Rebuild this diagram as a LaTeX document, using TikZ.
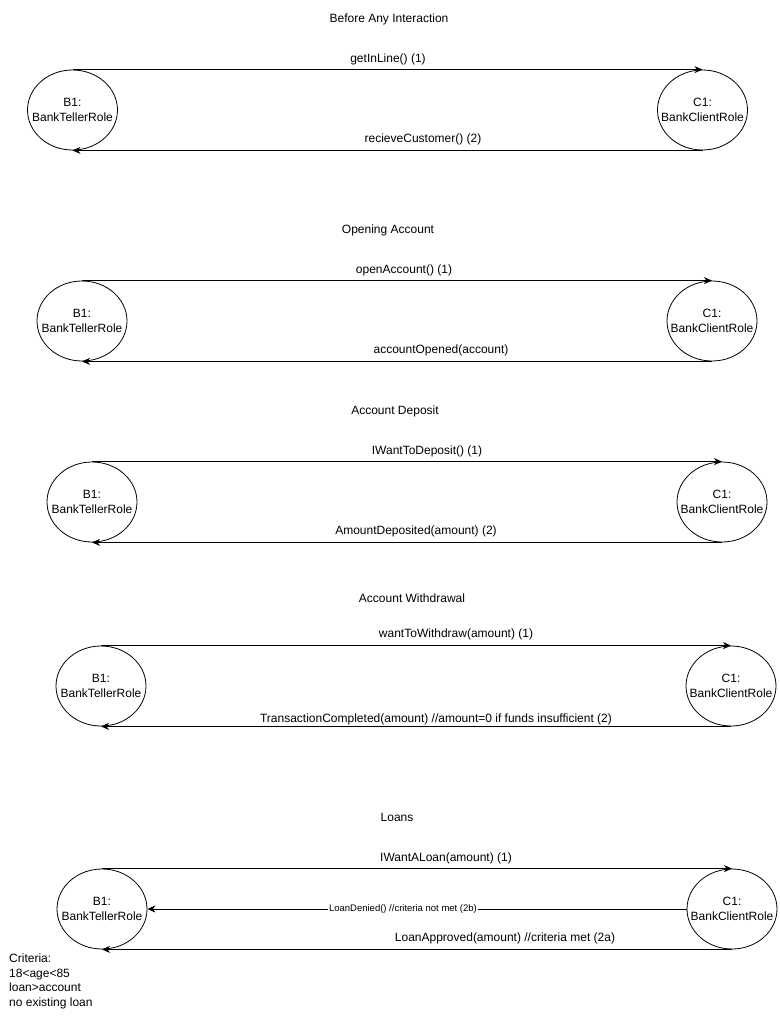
\documentclass[tikz,border=0pt]{standalone}
\usepackage{fontspec}
\setmainfont{Liberation Sans}
\usetikzlibrary{arrows.meta,shapes.geometric}
\begin{document}
\begin{tikzpicture}[x=1pt,y=-1pt,
  actor/.style={draw, ellipse, minimum width=90pt, minimum height=80pt, inner xsep=-40pt, inner ysep=-20pt, align=center, font=\fontsize{12}{14.5}\selectfont, line width=0.8pt},
  msg/.style={draw, line width=0.8pt, -{Stealth[length=8pt,width=7pt,inset=2.5pt]}},
  lbl/.style={font=\fontsize{12}{14}\selectfont, inner sep=0pt},
  smalllbl/.style={font=\fontsize{9.5}{11}\selectfont, inner sep=1pt, fill=white}
]
\useasboundingbox (0,0) rectangle (779,1017);
% Section 1
\node[lbl] (t1) at (389,19) {Before Any Interaction};
\node[actor] (b1) at (72.5,110) {B1:\\BankTellerRole};
\node[actor] (c1) at (702.5,110) {C1:\\BankClientRole};
\draw[msg] (b1.north) -- (c1.north);
\draw[msg] (c1.south) -- (b1.south);
\node[lbl] (l1a) at (388,59) {getInLine() (1)};
\node[lbl] (l1b) at (423,139) {recieveCustomer() (2)};
% Section 2
\node[lbl] (t2) at (388,230) {Opening Account};
\node[actor] (b2) at (82,321) {B1:\\BankTellerRole};
\node[actor] (c2) at (712,321) {C1:\\BankClientRole};
\draw[msg] (b2.north) -- (c2.north);
\draw[msg] (c2.south) -- (b2.south);
\node[lbl] (l2a) at (404,270) {openAccount() (1)};
\node[lbl] (l2b) at (441,350) {accountOpened(account)};
% Section 3
\node[lbl] (t3) at (395,411) {Account Deposit};
\node[actor] (b3) at (92,502) {B1:\\BankTellerRole};
\node[actor] (c3) at (722,502) {C1:\\BankClientRole};
\draw[msg] (b3.north) -- (c3.north);
\draw[msg] (c3.south) -- (b3.south);
\node[lbl] (l3a) at (427,451) {IWantToDeposit() (1)};
\node[lbl] (l3b) at (416,531) {AmountDeposited(amount) (2)};
% Section 4
\node[lbl] (t4) at (412,598) {Account Withdrawal};
\node[actor] (b4) at (101,686) {B1:\\BankTellerRole};
\node[actor] (c4) at (731,686) {C1:\\BankClientRole};
\draw[msg] (b4.north) -- (c4.north);
\draw[msg] (c4.south) -- (b4.south);
\node[lbl] (l4a) at (456,634) {wantToWithdraw(amount) (1)};
\node[lbl] (l4b) at (436,719) {TransactionCompleted(amount) //amount=0 if funds insufficient (2)};
% Section 5
\node[lbl] (t5) at (397,817) {Loans};
\node[actor] (b5) at (102,909) {B1:\\BankTellerRole};
\node[actor] (c5) at (732,909) {C1:\\BankClientRole};
\draw[msg] (b5.north) -- (c5.north);
\draw[msg] (c5.west) -- (b5.east) node[smalllbl, pos=0.526] (l5m) {LoanDenied() //criteria not met (2b)};
\draw[msg] (c5.south) -- (b5.south);
\node[lbl] (l5a) at (446,858) {IWantALoan(amount) (1)};
\node[lbl] (l5b) at (505,938) {LoanApproved(amount) //criteria met (2a)};
\node[lbl, anchor=north west, align=left, font=\fontsize{12}{14.5}\selectfont] (crit) at (9,954) {Criteria:\\18<age<85\\loan>account\\no existing loan};
\end{tikzpicture}
\end{document}
